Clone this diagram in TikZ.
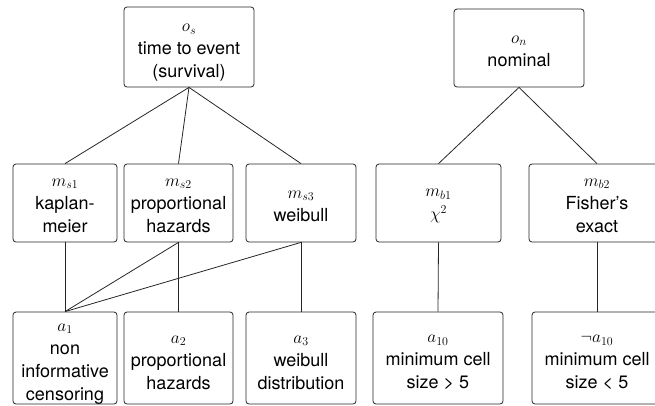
\documentclass[tikz,border=0pt]{standalone}
\usepackage{fontspec}
\setmainfont{TeX Gyre Heros}
\newcommand\lift[1]{\rule{0pt}{#1}}
\begin{document}
\begin{tikzpicture}[x=1pt,y=-1pt,
  nbox/.style={draw=black!85, line width=0.8pt, rounded corners=3pt, align=center,
    inner sep=0pt, font=\fontsize{18}{23}\selectfont, minimum height=78pt},
  link/.style={draw=black!85, line width=0.8pt}]
\useasboundingbox (0,0) rectangle (655,405);
\clip (0,0) rectangle (655,405);
\node[nbox, minimum width=130pt, minimum height=80pt] (os) at (189,47) {\lift{19pt}$o_s$\\time to event\\(survival)};
\node[nbox, minimum width=130pt] (on) at (519,48) {\lift{14pt}$o_n$\\nominal};
\node[nbox, minimum width=104pt] (ms1) at (65,203) {\lift{13pt}$m_{s1}$\\kaplan-\\meier};
\node[nbox, minimum width=109pt] (ms2) at (178.5,203) {\lift{13pt}$m_{s2}$\\proportional\\hazards};
\node[nbox, minimum width=110pt] (ms3) at (301,203) {\lift{14pt}$m_{s3}$\\weibull};
\node[nbox, minimum width=125pt] (mb1) at (438.5,203) {\lift{14pt}$m_{b1}$\\$\chi^2$};
\node[nbox, minimum width=136pt] (mb2) at (597,203) {\lift{13pt}$m_{b2}$\\Fisher’s\\exact};
\node[nbox, minimum width=104pt, minimum height=92pt] (a1) at (65,358) {\lift{19pt}$a_1$\\non\\informative\\censoring};
\node[nbox, minimum width=109pt, minimum height=92pt] (a2) at (178.5,358) {\lift{17pt}$a_2$\\proportional\\hazards};
\node[nbox, minimum width=110pt, minimum height=92pt] (a3) at (301,358) {\lift{17pt}$a_3$\\weibull\\distribution};
\node[nbox, minimum width=130pt, minimum height=92pt] (a10) at (438,358) {\lift{17pt}$a_{10}$\\minimum cell\\size > 5};
\node[nbox, minimum width=130pt, minimum height=92pt] (na10) at (597,358) {\lift{17pt}$\neg a_{10}$\\minimum cell\\size < 5};
\draw[link] (os.south) -- (ms1.north);
\draw[link] (os.south) -- (ms2.north);
\draw[link] (os.south) -- (ms3.north);
\draw[link] (on.south) -- (mb1.north);
\draw[link] (on.south) -- (mb2.north);
\draw[link] (ms1.south) -- (a1.north);
\draw[link] (ms2.south) -- (a1.north);
\draw[link] (ms3.south) -- (a1.north);
\draw[link] (ms2.south) -- (a2.north);
\draw[link] (ms3.south) -- (a3.north);
\draw[link] (mb1.south) -- (a10.north);
\draw[link] (mb2.south) -- (na10.north);
\end{tikzpicture}
\end{document}
